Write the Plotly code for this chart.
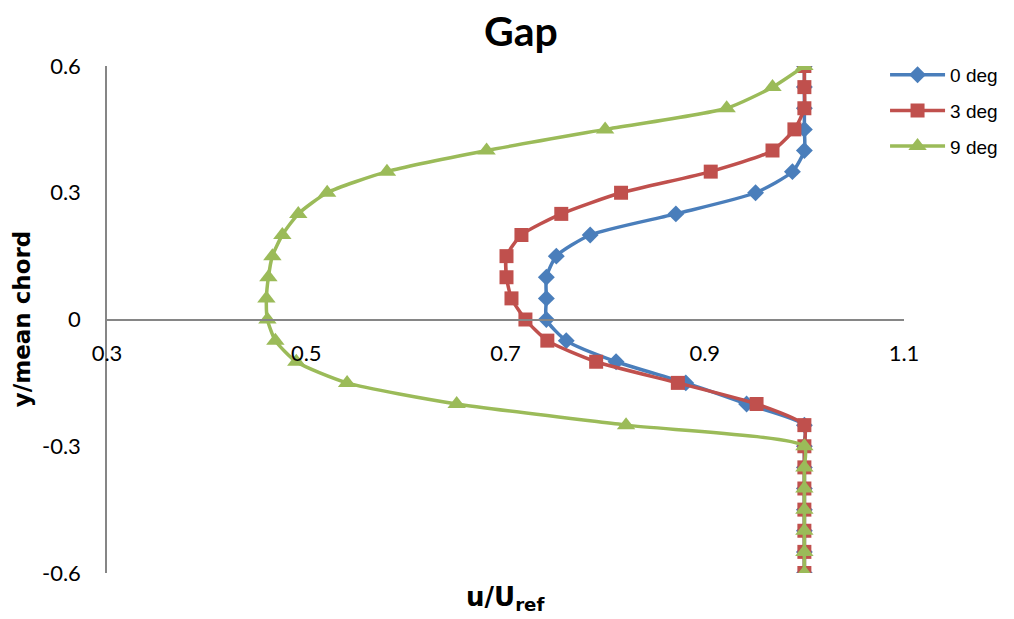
import plotly.graph_objects as go

# Wake profile across the gap: normalised velocity vs. vertical position
y_pos = [0.6, 0.55, 0.5, 0.45, 0.4, 0.35, 0.3, 0.25, 0.2, 0.15, 0.1, 0.05, 0.0,
         -0.05, -0.1, -0.15, -0.2, -0.25, -0.3, -0.35, -0.4, -0.45, -0.5, -0.55, -0.6]

u_0deg = [1.0, 1.0, 1.0, 1.0, 1.0, 0.988, 0.951, 0.871, 0.785, 0.751, 0.741, 0.741, 0.741,
          0.761, 0.811, 0.881, 0.942, 1.0, 1.0, 1.0, 1.0, 1.0, 1.0, 1.0, 1.0]
u_3deg = [1.0, 1.0, 1.0, 0.99, 0.968, 0.906, 0.816, 0.756, 0.716, 0.701, 0.701, 0.706, 0.72,
          0.742, 0.791, 0.873, 0.952, 1.0, 1.0, 1.0, 1.0, 1.0, 1.0, 1.0, 1.0]
u_9deg = [1.0, 0.968, 0.922, 0.80, 0.681, 0.581, 0.521, 0.492, 0.476, 0.466, 0.462, 0.460, 0.461,
          0.469, 0.490, 0.541, 0.651, 0.821, 1.0, 1.0, 1.0, 1.0, 1.0, 1.0, 1.0]

series = [
    ("0 deg", u_0deg, "#4A7EBB", "diamond", 13),
    ("3 deg", u_3deg, "#C0504D", "square", 14),
    ("9 deg", u_9deg, "#9BBB59", "triangle-up", 16),
]

x_ticks = [0.3, 0.5, 0.7, 0.9, 1.1]
y_ticks = [-0.6, -0.3, 0.0, 0.3, 0.6]
y_tick_text = ["-0.6", "-0.3", "0", "0.3", "0.6"]

TICK_FONT = "Lato, 'Open Sans', sans-serif"
TITLE_FONT = "'DejaVu Sans', Verdana, sans-serif"
LEGEND_FONT = "'Liberation Sans', Arial, sans-serif"

fig = go.Figure()
for name, u, color, symbol, size in series:
    fig.add_trace(go.Scatter(
        x=u, y=y_pos, name=name, legendgroup=name, mode="lines+markers",
        line=dict(color=color, width=3.5, shape="spline", smoothing=0.6),
        marker=dict(symbol=symbol, size=size, color=color),
    ))

fig.update_layout(
    width=1014, height=619,
    margin=dict(l=107, r=109, t=66, b=46),
    paper_bgcolor="white", plot_bgcolor="white",
    font=dict(family=TICK_FONT, size=22, color="black"),
    showlegend=True,
    legend=dict(x=0.975, y=1.02, xanchor="left", yanchor="top",
                font=dict(family=LEGEND_FONT, size=19), itemwidth=55,
                traceorder="grouped", tracegroupgap=8,
                bgcolor="rgba(0,0,0,0)"),
    xaxis=dict(range=[0.3, 1.1], tickvals=x_ticks, ticktext=[str(v) for v in x_ticks],
               showgrid=False, zeroline=False, showline=True, linecolor="#868686",
               linewidth=1.5, anchor="free", position=0.5, ticks="",
               ticklabelstandoff=14),
    yaxis=dict(range=[-0.6, 0.6], tickvals=y_ticks, ticktext=y_tick_text,
               showgrid=False, zeroline=False, showline=True, linecolor="#868686",
               linewidth=1.5, ticks="", ticklabelstandoff=20),
    annotations=[
        dict(text="<b>Gap</b>", x=0.52, y=1.07, xref="paper", yref="paper",
             xanchor="center", yanchor="middle",
             showarrow=False, font=dict(family=TICK_FONT, size=41)),
        dict(text="<b>y/mean chord</b>", textangle=-90, xref="paper", yref="paper",
             x=-0.107, y=0.5, xanchor="center", yanchor="middle",
             showarrow=False, font=dict(family=TITLE_FONT, size=23)),
        dict(text="<b>u/U<sub>ref</sub></b>", xref="paper", yref="paper",
             x=0.5, y=-0.05, xanchor="center", yanchor="middle",
             showarrow=False, font=dict(family=TITLE_FONT, size=26)),
    ],
)

fig.write_html("out.html")
